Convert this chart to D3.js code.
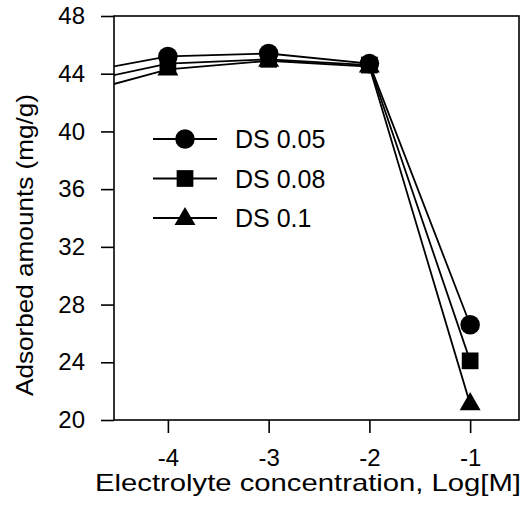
<!DOCTYPE html>
<html>
<head>
<meta charset="utf-8">
<script src="https://cdn.jsdelivr.net/npm/d3@7"></script>
<style>
  body { margin: 0; background: #fff; }
  text { font-family: "Liberation Sans", Arial, sans-serif; fill: #000; }
</style>
</head>
<body>
<div id="chart"></div>
<script>
// data (the -5 point is off the plot, lines are clipped)
const concentration = [-5, -4, -3, -2, -1];
const ds005 = [43.9, 45.2, 45.4, 44.7, 26.6];
const ds008 = [43.2, 44.7, 45.0, 44.6, 24.1];
const ds01 = [42.4, 44.3, 44.9, 44.5, 21.1];
const seriesNames = ["DS 0.05", "DS 0.08", "DS 0.1"];
const xTicks = [-4, -3, -2, -1];
const yTicks = [20, 24, 28, 32, 36, 40, 44, 48];

const svgWidth = 530;
const svgHeight = 514;
const margin = { top: 16, right: 11, bottom: 94, left: 114 };
const width = svgWidth - margin.left - margin.right;
const height = svgHeight - margin.top - margin.bottom;

const svg = d3
  .select("#chart")
  .append("svg")
  .attr("width", svgWidth)
  .attr("height", svgHeight);

const chart = svg
  .append("g")
  .attr("transform", `translate(${margin.left},${margin.top})`);

const xScale = d3.scaleLinear().domain([-4.535, -0.515]).range([0, width]);
const yScale = d3.scaleLinear().domain([20, 48]).range([height, 0]);

chart
  .append("clipPath")
  .attr("id", "clip")
  .append("rect")
  .attr("width", width)
  .attr("height", height);

// frame
chart
  .append("rect")
  .attr("width", width)
  .attr("height", height)
  .attr("fill", "none")
  .attr("stroke", "#000")
  .attr("stroke-width", 1.6);

// axes
const yAxis = chart
  .append("g")
  .call(
    d3.axisLeft(yScale).tickValues(yTicks).tickSize(13).tickPadding(16)
      .tickFormat((d) => String(d))
  );
const xAxis = chart
  .append("g")
  .attr("transform", `translate(0, ${height})`)
  .call(
    d3.axisBottom(xScale).tickValues(xTicks).tickSize(13).tickPadding(16)
      .tickFormat((d) => String(d))
  );

[xAxis, yAxis].forEach((ax) => {
  ax.select(".domain").remove();
  ax.selectAll("line").attr("stroke", "#000").attr("stroke-width", 1.6);
  ax.selectAll("text")
    .style("font-size", "24px")
    .style("font-family", '"Liberation Sans", Arial, sans-serif')
    .attr("fill", "#000");
});

// axis titles
svg
  .append("text")
  .attr("x", 308)
  .attr("y", 491)
  .attr("text-anchor", "middle")
  .attr("textLength", 426)
  .attr("lengthAdjust", "spacingAndGlyphs")
  .style("font-size", "24px")
  .text("Electrolyte concentration, Log[M]");

svg
  .append("text")
  .attr("transform", "translate(33, 245) rotate(-90)")
  .attr("text-anchor", "middle")
  .attr("textLength", 302)
  .attr("lengthAdjust", "spacingAndGlyphs")
  .style("font-size", "24px")
  .text("Adsorbed amounts (mg/g)");

// series
const series = [ds005, ds008, ds01];
const symbols = [
  d3.symbol().type(d3.symbolCircle).size(300),
  d3.symbol().type(d3.symbolSquare).size(280),
  d3.symbol().type(d3.symbolTriangle).size(190),
];

const line = d3
  .line()
  .x((d) => xScale(d[0]))
  .y((d) => yScale(d[1]));

const plot = chart.append("g").attr("clip-path", "url(#clip)");

series.forEach((values, i) => {
  const pts = concentration.map((c, j) => [c, values[j]]);
  plot
    .append("path")
    .datum(pts)
    .attr("fill", "none")
    .attr("stroke", "#000")
    .attr("stroke-width", 1.8)
    .attr("d", line);
  plot
    .selectAll(".m" + i)
    .data(pts.filter((d) => d[0] >= -4))
    .enter()
    .append("path")
    .attr("class", "m" + i)
    .attr("transform", (d) => `translate(${xScale(d[0])},${yScale(d[1])})`)
    .attr("d", symbols[i])
    .attr("fill", "#000");
});

// legend
const legend = svg.append("g").attr("transform", "translate(153, 139)");
seriesNames.forEach((name, i) => {
  const g = legend.append("g").attr("transform", `translate(0, ${i * 39.5})`);
  g.append("line")
    .attr("x1", 0)
    .attr("x2", 64)
    .attr("stroke", "#000")
    .attr("stroke-width", 1.8);
  g.append("path")
    .attr("transform", `translate(32, ${i === 2 ? 1 : 0})`)
    .attr("d", symbols[i])
    .attr("fill", "#000");
  g.append("text")
    .attr("x", 82)
    .attr("dy", "0.36em")
    .style("font-size", "25px")
    .text(name);
});
</script>
</body>
</html>
